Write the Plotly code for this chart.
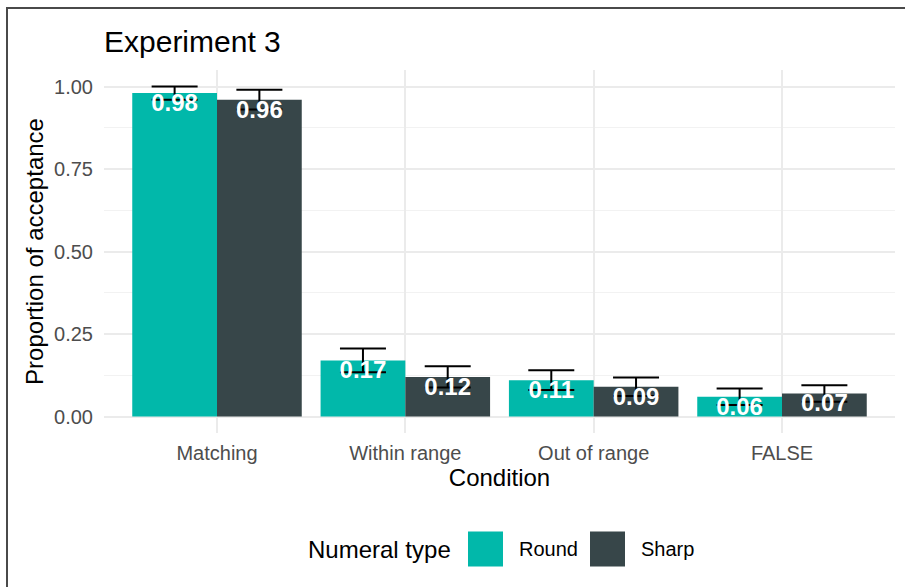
import plotly.graph_objects as go

# Acceptance proportions per condition and numeral type
conditions = ["Matching", "Within range", "Out of range", "FALSE"]
series_names = ["Round", "Sharp"]
round_values = [0.98, 0.17, 0.11, 0.06]
sharp_values = [0.96, 0.12, 0.09, 0.07]
round_errors = [0.020, 0.036, 0.030, 0.025]
sharp_errors = [0.030, 0.032, 0.028, 0.025]
y_ticks = [0.0, 0.25, 0.50, 0.75, 1.00]
y_tick_labels = ["0.00", "0.25", "0.50", "0.75", "1.00"]

colors = {"Round": "#01B8AA", "Sharp": "#374649"}
FONT = "Liberation Sans, Arial, sans-serif"

W, H = 905, 587
ML, MR, MT, MB = 104, 10, 70, 154
PW, PH = W - ML - MR, H - MT - MB


def px_x(p):
    return (p - ML) / PW


def px_y(p):
    return (H - MB - p) / PH


fig = go.Figure()

for name, vals, errs in [("Round", round_values, round_errors),
                         ("Sharp", sharp_values, sharp_errors)]:
    fig.add_trace(go.Bar(
        x=conditions, y=vals, name=name,
        marker=dict(color=colors[name], line=dict(width=0)),
        offsetgroup=name,
        error_y=dict(type="data", array=errs, visible=True,
                     color="black", thickness=2, width=23),
        showlegend=False,
    ))

for name, vals in [("Round", round_values), ("Sharp", sharp_values)]:
    fig.add_trace(go.Scatter(
        x=conditions, y=vals, mode="text",
        text=[f"{v:.2f}" for v in vals],
        textposition="bottom center",
        textfont=dict(color="white", size=24, family=FONT, weight="bold"),
        offsetgroup=name, showlegend=False, hoverinfo="skip",
    ))

# Legend drawn as swatches and labels below the panel
shapes = []
annotations = []
leg_cy = 549
annotations.append(dict(
    text="Numeral type", x=px_x(306), y=px_y(leg_cy), xref="paper", yref="paper",
    xanchor="left", yanchor="middle", showarrow=False,
    font=dict(size=24, color="black", family=FONT)))
sw_left = [468, 590]
for name, left in zip(series_names, sw_left):
    shapes.append(dict(
        type="rect", xref="paper", yref="paper",
        x0=px_x(left), x1=px_x(left + 35), y0=px_y(leg_cy + 17.5), y1=px_y(leg_cy - 17.5),
        fillcolor=colors[name], line=dict(width=0)))
    annotations.append(dict(
        text=name, x=px_x(left + 49), y=px_y(leg_cy), xref="paper", yref="paper",
        xanchor="left", yanchor="middle", showarrow=False,
        font=dict(size=20, color="black", family=FONT)))

# Outer frame line
shapes.append(dict(
    type="rect", xref="paper", yref="paper",
    x0=px_x(7), x1=px_x(W + 20), y0=px_y(H + 20), y1=px_y(8),
    line=dict(color="#4a4a4a", width=2), fillcolor="rgba(0,0,0,0)", layer="above"))

fig.update_layout(
    width=W, height=H,
    margin=dict(l=ML, r=MR, t=MT, b=MB, pad=0),
    paper_bgcolor="white", plot_bgcolor="white",
    barmode="group", bargap=0.1, bargroupgap=0,
    scattermode="group", scattergap=0.1,
    font=dict(family=FONT, size=20, color="black"),
    title=dict(text="Experiment 3", x=ML / W, xref="container",
               xanchor="left", y=1 - 41 / H, yref="container", yanchor="middle",
               font=dict(size=30, color="black", family=FONT)),
    showlegend=False,
    shapes=shapes, annotations=annotations,
)

fig.update_xaxes(
    type="category", categoryorder="array", categoryarray=conditions,
    range=[-0.6, 3.6],
    showgrid=True, gridcolor="#EBEBEB", gridwidth=1.5,
    showline=False, zeroline=False, ticks="",
    tickfont=dict(size=20, color="#4D4D4D", family=FONT),
    ticklabelstandoff=6,
    title=dict(text="Condition", font=dict(size=24, color="black", family=FONT), standoff=6),
)

fig.update_yaxes(
    range=[-0.05, 1.05],
    tickvals=y_ticks, ticktext=y_tick_labels,
    showgrid=True, gridcolor="#EBEBEB", gridwidth=1.5,
    minor=dict(showgrid=True, gridcolor="#F2F2F2", gridwidth=1, dtick=0.125, tick0=0),
    showline=False, zeroline=False, ticks="",
    tickfont=dict(size=20, color="#4D4D4D", family=FONT),
    ticklabelstandoff=10,
    title=dict(text="Proportion of acceptance", font=dict(size=24, color="black", family=FONT), standoff=3),
)

fig.write_html("out.html")
